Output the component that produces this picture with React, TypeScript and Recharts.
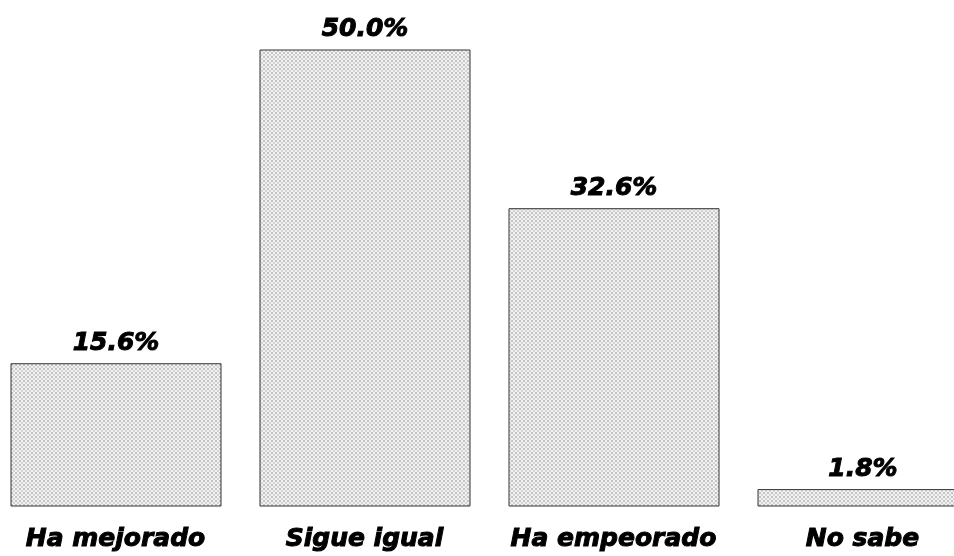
import React from "react";
import { BarChart, Bar, XAxis, YAxis, LabelList } from "recharts";

const categories = ["Ha mejorado", "Sigue igual", "Ha empeorado", "No sabe"];
const values = [15.6, 50.0, 32.6, 1.8];
const valueLabels = ["15.6%", "50.0%", "32.6%", "1.8%"];

const data = categories.map((c, i) => ({ name: c, value: values[i], label: valueLabels[i] }));

const textStyle = {
  fontFamily: "'DejaVu Sans', sans-serif",
  fontWeight: 700,
  fontStyle: "italic",
  fontSize: 25,
  fill: "#000",
  stroke: "#000",
  strokeWidth: 1,
};

export default function App() {
  return (
    <div style={{ position: "fixed", left: 0, top: 0, width: 954, height: 556, overflow: "hidden" }}>
      <div style={{ marginLeft: -9, width: 996, height: 556 }}>
        <BarChart
          width={996}
          height={556}
          data={data}
          margin={{ top: 50, right: 0, bottom: 20, left: 0 }}
          barSize={210}
        >
          <defs>
            <pattern id="dots" width="4" height="4" patternUnits="userSpaceOnUse">
              <rect width="4" height="4" fill="#f2f2f2" />
              <rect x="0" y="0" width="2" height="2" fill="#c4c4c4" />
              <rect x="2" y="2" width="2" height="2" fill="#d4d4d4" />
            </pattern>
          </defs>
          <XAxis
            dataKey="name"
            axisLine={false}
            tickLine={false}
            interval={0}
            height={30}
            tick={{ ...textStyle, dy: 14 } as any}
          />
          <YAxis hide domain={[0, 50]} />
          <Bar dataKey="value" fill="url(#dots)" stroke="#333" strokeWidth={1} isAnimationActive={false}>
            <LabelList dataKey="label" position="top" offset={14} style={textStyle as any} />
          </Bar>
        </BarChart>
      </div>
    </div>
  );
}
